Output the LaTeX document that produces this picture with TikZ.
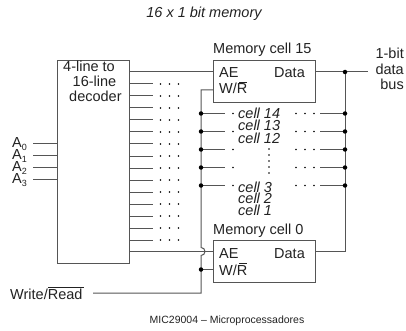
\documentclass[tikz,border=0pt]{standalone}
\usepackage{fontspec}
\setmainfont{Liberation Sans}
\definecolor{ln}{HTML}{555555}
\definecolor{tx}{HTML}{222222}
\tikzset{
 wire/.style={draw=ln,line width=1pt},
 boxs/.style={draw=ln,line width=1.1pt,fill=white,inner sep=0pt,minimum width=#1},
 lab/.style={inner sep=0pt,text=tx,font=\fontsize{14.5}{14.5}\selectfont,anchor=base west},
 labe/.style={inner sep=0pt,text=tx,font=\fontsize{14.5}{14.5}\selectfont,anchor=base east},
 cellt/.style={inner sep=0pt,text=tx,font=\fontsize{14.5}{14.5}\selectfont\itshape,anchor=base west},
 dotj/.style={circle,fill=black,inner sep=0pt,minimum size=4.5pt},
 dotd/.style={circle,fill=black,inner sep=0pt,minimum size=1.6pt},
}
\newcommand{\wbar}{W/R\llap{\rule[11pt]{8pt}{0.7pt}}}
\begin{document}
\begin{tikzpicture}[x=1pt,y=-1pt]
\useasboundingbox (0,0) rectangle (406,331);
\node[inner sep=0pt,text=tx,font=\fontsize{14.5}{14.5}\selectfont\itshape] (title) at (204,14) {16 x 1 bit memory};
% boxes
\node[boxs=72pt,minimum height=203pt,anchor=north west] (dec) at (57,60) {};
\node[boxs=102pt,minimum height=42pt,anchor=north west] (c15) at (213,60) {};
\node[boxs=102pt,minimum height=42pt,anchor=north west] (c0) at (213,239.5) {};
% decoder text
\node[lab] (d1) at (63,71.5) {4-line to};
\node[lab] (d2) at (72.5,87) {16-line};
\node[lab] (d3) at (69,102) {decoder};
\node[lab] (t15) at (213,54) {Memory cell 15};
\node[lab] (t0) at (213,234) {Memory cell 0};
\node[lab] (ae1) at (219,78) {AE};
\node[lab] (da1) at (274,78) {Data};
\node[lab] (wr1) at (219,94) {\wbar};
\node[lab] (ae2) at (219,258) {AE};
\node[lab] (da2) at (274,258) {Data};
\node[lab] (wr2) at (219,275) {\wbar};
% address inputs
\foreach \i/\y/\b in {0/143.5/147,1/155.5/159,2/167.5/171,3/179.5/183}{
  \node[lab] (a\i) at (12,\b) {A\raisebox{-3pt}{\fontsize{9}{9}\selectfont\i}};
  \coordinate (as\i) at (33,\y);
  \draw[wire] (as\i) -- (dec.west |- as\i);
}
% decoder outputs
\foreach \k in {1,...,14}{
  \pgfmathsetmacro{\yy}{72+12*\k}
  \coordinate (o\k) at (153,\yy);
  \draw[wire] (dec.east |- o\k) -- (o\k);
  \foreach \x in {160.5,169.5,178.5} \node[dotd] at (\x,\yy) {};
}
% top and bottom enables
\coordinate (ae15) at (213,72);
\coordinate (ae0) at (213,251.5);
\coordinate (dt15) at (315,72);
\coordinate (dt0) at (315,251.5);
\draw[wire] (dec.east |- ae15) -- (ae15);
\draw[wire] (dec.east |- ae0) -- (ae0);
\coordinate (wr15) at (213,90);
\coordinate (wr0) at (213,269.5);
\coordinate (wrs) at (93,293);
\coordinate (wrt) at (201,90);
\coordinate (wrb) at (201,293);
\draw[wire] (wrs) -- (wrb) -- (201,255.5) arc[start angle=-90,end angle=90,radius=4pt] -- (wrt) -- (wr15);
\draw[wire] (wr0) -- (201,269.5);
\node[lab] (wrl) at (10,299) {Write/\rlap{\rule[11pt]{36pt}{0.7pt}}Read};
\node[dotj] at (201,269.5) {};
% data bus
\coordinate (bus) at (368,72);
\coordinate (dbt) at (345,72);
\coordinate (dbb) at (345,251.5);
\draw[wire] (dt15) -- (bus);
\draw[wire] (dbt) -- (dbb) -- (dt0);
\node[dotj] at (dbt) {};
\node[labe] at (404,59) {1-bit};
\node[labe] at (404,75) {data};
\node[labe] at (404,89.5) {bus};
% rows
\foreach \y in {113.5,131.5,149.5,167.5,185.5}{
  \coordinate (rl) at (225,\y);
  \coordinate (rr) at (320,\y);
  \draw[wire] (201,\y) -- (rl);
  \draw[wire] (rr) -- (345,\y);
  \node[dotj] at (201,\y) {};
  \node[dotj] at (345,\y) {};
  \node[dotd] at (233,\y) {};
  \foreach \x in {296,305,314} \node[dotd] at (\x,\y) {};
}
\foreach \y in {149,155,161,167,173} \node[dotd] at (269,\y) {};
\node[cellt] at (238,119) {cell 14};
\node[cellt] at (238,131) {cell 13};
\node[cellt] at (238,143) {cell 12};
\node[cellt] at (238,192) {cell 3};
\node[cellt] at (238,203.5) {cell 2};
\node[cellt] at (238,215) {cell 1};
\node[inner sep=0pt,text=tx,font=\fontsize{10.5}{10.5}\selectfont] (foot) at (227,321) {MIC29004 – Microprocessadores};
\end{tikzpicture}
\end{document}
